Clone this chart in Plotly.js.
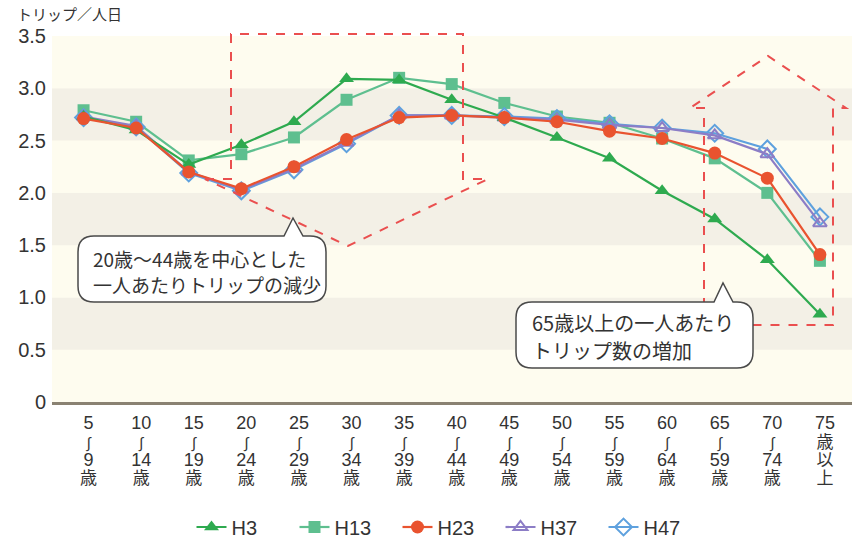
<!DOCTYPE html>
<html>
<head>
<meta charset="utf-8">
<script src="https://cdn.plot.ly/plotly-3.0.1.min.js"></script>
<style>html,body{margin:0;padding:0;background:#fff;}#chart{width:856px;height:545px;}</style>
</head>
<body>
<div id="chart"></div>
<script>
// ---- data ----
const categories = ['5～9歳','10～14歳','15～19歳','20～24歳','25～29歳','30～34歳','35～39歳','40～44歳','45～49歳','50～54歳','55～59歳','60～64歳','65～59歳','70～74歳','75歳以上'];
const tickTop    = ['5','10','15','20','25','30','35','40','45','50','55','60','65','70','75'];
const tickBottom = ['9','14','19','24','29','34','39','44','49','54','59','64','59','74',''];
const H3  = [2.73, 2.60, 2.27, 2.46, 2.68, 3.09, 3.08, 2.89, 2.72, 2.53, 2.33, 2.02, 1.75, 1.36, 0.84];
const H13 = [2.79, 2.68, 2.31, 2.37, 2.53, 2.89, 3.10, 3.04, 2.86, 2.73, 2.67, 2.52, 2.33, 2.00, 1.35];
const H23 = [2.71, 2.62, 2.20, 2.04, 2.25, 2.51, 2.72, 2.74, 2.72, 2.68, 2.59, 2.52, 2.38, 2.14, 1.41];
const H37 = [2.73, 2.64, 2.20, 2.03, 2.23, 2.48, 2.74, 2.74, 2.72, 2.70, 2.65, 2.62, 2.55, 2.37, 1.71];
const H47 = [2.72, 2.63, 2.19, 2.02, 2.22, 2.47, 2.74, 2.74, 2.73, 2.71, 2.66, 2.62, 2.57, 2.42, 1.77];
const yTickVals = [0, 0.5, 1.0, 1.5, 2.0, 2.5, 3.0, 3.5];
const yTickText = ['0', '0.5', '1.0', '1.5', '2.0', '2.5', '3.0', '3.5'];
const yTitle = 'トリップ／人日';
const note1 = ['20歳～44歳を中心とした', '一人あたりトリップの減少'];
const note2 = ['65歳以上の一人あたり', 'トリップ数の増加'];

// ---- layout geometry ----
const W = 856, H = 545;
const M = {l: 52, r: 4, t: 36, b: 143, autoexpand: false};
const PW = W - M.l - M.r, PH = H - M.t - M.b;
const px = x => (x - M.l) / PW;
const py = y => (H - M.b - y) / PH;
const pt = (x, y) => px(x).toFixed(5) + ',' + py(y).toFixed(5);

const FONT = 'Liberation Sans, Arial, Noto Sans CJK JP, DejaVu Sans, sans-serif';
const TXT = '#333333';

const big = s => '<span style="font-size:18px">' + s + '</span>';
const kanji = s => '<span style="font-size:17px">' + s + '</span>';
const squig = '<span style="font-size:15px">∫</span>';
const tickText = tickTop.map((t, i) => {
  if (tickBottom[i] === '') return big(t) + '<br>' + kanji('歳') + '<br>' + kanji('以') + '<br>' + kanji('上');
  return big(t) + '<br>' + squig + '<br>' + big(tickBottom[i]) + '<br>' + kanji('歳');
});

function trace(name, y, color, symbol, size, rank, lw) {
  return {
    type: 'scatter', mode: 'lines+markers', name: name, x: categories, y: y,
    line: {color: color, width: 2.2},
    marker: {symbol: symbol, size: size, color: color, line: {color: color, width: lw || 0}},
    legendrank: rank, cliponaxis: false
  };
}

const traces = [
  trace('H13', H13, '#5ebf8f', 'square', 12, 2),
  trace('H47', H47, '#5ea1de', 'diamond-open', 13, 5, 2),
  trace('H37', H37, '#8c7dc6', 'triangle-up-open', 12, 4, 2),
  trace('H3',  H3,  '#2eaa4f', 'triangle-up', 13, 1),
  trace('H23', H23, '#e9532f', 'circle', 13, 3)
];

// background bands
const bands = [];
for (let k = 0; k < 7; k++) {
  bands.push({type: 'rect', xref: 'paper', yref: 'y', x0: 0, x1: 1, y0: k * 0.5, y1: k * 0.5 + 0.5,
    fillcolor: (k % 2 === 0) ? '#fefcef' : '#f3f0e6', line: {width: 0}, layer: 'below'});
}

function poly(points, close) {
  return 'M ' + points.map(p => pt(p[0], p[1])).join(' L ') + (close ? ' Z' : '');
}
const dashRed = {color: '#ea4f4f', width: 2, dash: 'dash'};
const arrowShapes = [
  {type: 'path', xref: 'paper', yref: 'paper', layer: 'above', line: dashRed,
   path: poly([[205,179],[231,179],[231,34],[463,34],[463,179],[488,179],[348,246]], true)},
  {type: 'path', xref: 'paper', yref: 'paper', layer: 'above', line: dashRed,
   path: poly([[704,325],[704,108],[690,108],[768,56],[846,108],[833,108],[833,325]], true)}
];

function bubble(x0, y0, x1, y1, r, tb0, tb1, tax, tay) {
  const d = 'M ' + pt(x0 + r, y0) + ' L ' + pt(tb0, y0) + ' L ' + pt(tax, tay) + ' L ' + pt(tb1, y0) +
    ' L ' + pt(x1 - r, y0) + ' Q ' + pt(x1, y0) + ' ' + pt(x1, y0 + r) +
    ' L ' + pt(x1, y1 - r) + ' Q ' + pt(x1, y1) + ' ' + pt(x1 - r, y1) +
    ' L ' + pt(x0 + r, y1) + ' Q ' + pt(x0, y1) + ' ' + pt(x0, y1 - r) +
    ' L ' + pt(x0, y0 + r) + ' Q ' + pt(x0, y0) + ' ' + pt(x0 + r, y0) + ' Z';
  return {type: 'path', xref: 'paper', yref: 'paper', layer: 'above', path: d,
    fillcolor: '#ffffff', line: {color: '#4a4a4a', width: 1.5}};
}
const bubbles = [
  bubble(78, 236, 326, 302, 16, 284, 303, 293, 218),
  bubble(516, 302, 753, 368, 16, 714, 733, 723, 283)
];

function note(text, x, y, size) {
  return {xref: 'paper', yref: 'paper', x: px(x), y: py(y), xanchor: 'left', yanchor: 'middle',
    text: text, showarrow: false, font: {family: 'Noto Sans CJK JP, sans-serif', size: size, color: TXT}};
}

const annotations = [
  {xref: 'paper', yref: 'paper', x: px(15), y: py(14), xanchor: 'left', yanchor: 'middle',
   text: yTitle, showarrow: false, font: {family: 'Noto Sans CJK JP, sans-serif', size: 15, color: TXT}},
  note(note1[0], 91, 258, 19),
  note(note1[1], 91, 284, 19),
  note(note2[0], 530, 322, 20),
  note(note2[1], 530, 350, 20)
];

const layout = {
  width: W, height: H,
  margin: M,
  paper_bgcolor: '#ffffff', plot_bgcolor: '#fefcef',
  font: {family: FONT, color: TXT},
  showlegend: true,
  legend: {orientation: 'h', x: px(449), xanchor: 'center', y: py(527), yanchor: 'middle',
    font: {family: FONT, size: 20, color: TXT}, bgcolor: 'rgba(0,0,0,0)',
    entrywidth: 58, entrywidthmode: 'pixels'},
  xaxis: {
    type: 'category', range: [-0.6, 14.61], showgrid: false, zeroline: false, automargin: false,
    showline: true, linecolor: '#8a8272', linewidth: 2.5, ticks: '',
    tickmode: 'array', tickvals: categories, ticktext: tickText,
    tickfont: {family: FONT, size: 14, color: TXT}, ticklabelshift: 5, ticklabelstandoff: 8, fixedrange: true
  },
  yaxis: {
    range: [0, 3.5], showgrid: false, zeroline: false, showline: false, ticks: '', automargin: false,
    tickmode: 'array', tickvals: yTickVals, ticktext: yTickText,
    tickfont: {family: FONT, size: 20, color: TXT}, ticklabelstandoff: 5, fixedrange: true
  },
  shapes: bands.concat(arrowShapes, bubbles),
  annotations: annotations
};

Plotly.newPlot('chart', traces, layout, {staticPlot: true, displayModeBar: false});
</script>
</body>
</html>
